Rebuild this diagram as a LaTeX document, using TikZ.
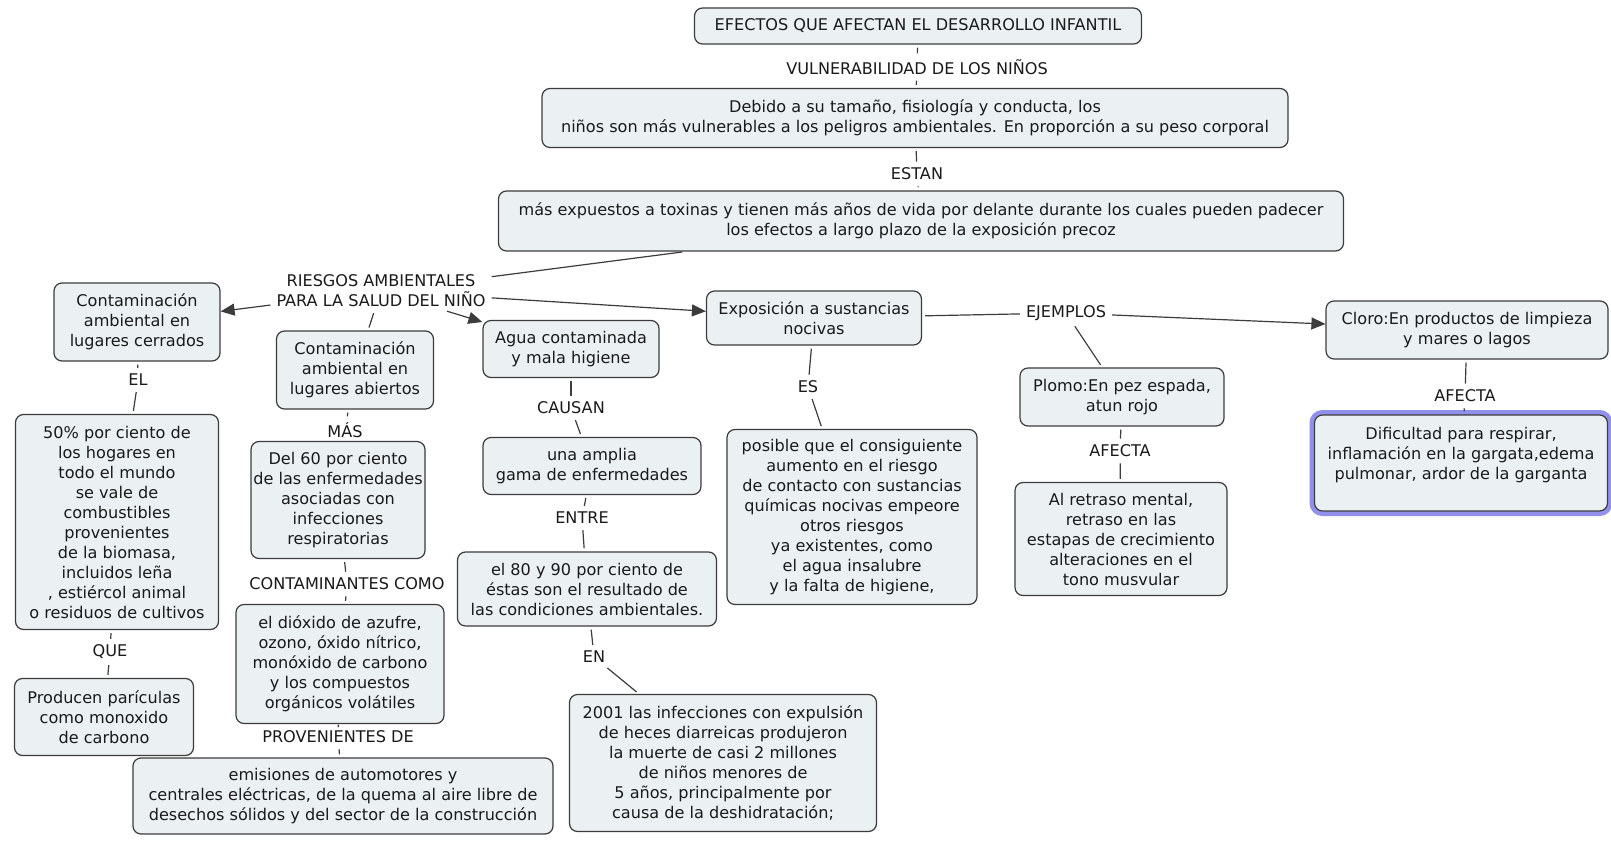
\documentclass[tikz,border=0pt]{standalone}
\usepackage{fontspec}
\setmainfont{DejaVu Sans}
\usetikzlibrary{arrows.meta}
\definecolor{boxfill}{HTML}{EBF0F3}
\definecolor{boxline}{HTML}{3C3C3C}
\definecolor{txt}{HTML}{1A1A1A}
\definecolor{hl}{HTML}{9191EC}
\newcommand\cmfont{\fontsize{16.1}{20}\selectfont}
\tikzset{
 concept/.style={draw=boxline, fill=boxfill, rounded corners=8pt, line width=1.2pt, align=center, text=txt, inner sep=2pt, font=\cmfont},
 lbl/.style={align=center, text=txt, inner sep=3pt, font=\cmfont},
 link/.style={draw=boxline, line width=1.2pt, shorten <=3pt, shorten >=3pt},
 arr/.style={draw=boxline, line width=1.2pt, shorten <=3pt, -{Triangle[length=14pt,width=12pt]}}
}
\begin{document}
\begin{tikzpicture}[x=1pt,y=-1pt]
\fill[white] (0,0) rectangle (1611,842);
\useasboundingbox (0,0) rectangle (1611,842);

\node[concept, minimum width=447pt, minimum height=36pt] (title) at (918,26) {EFECTOS QUE AFECTAN EL DESARROLLO INFANTIL};
\node[lbl] (vul) at (917,67) {VULNERABILIDAD DE LOS NIÑOS};
\node[concept, minimum width=746pt, minimum height=59pt] (debido) at (915,118) {Debido a su tamaño, fisiología y conducta, los\\niños son más vulnerables a los peligros ambientales. En proporción a su peso corporal};
\node[lbl] (estan) at (917,174) {ESTAN};
\node[concept, minimum width=845pt, minimum height=60pt] (masexp) at (921,221) {más expuestos a toxinas y tienen más años de vida por delante durante los cuales pueden padecer\\los efectos a largo plazo de la exposición precoz};
\node[lbl] (riesgos) at (381,291) {RIESGOS AMBIENTALES\\PARA LA SALUD DEL NIÑO};

\node[concept, minimum width=166pt, minimum height=78pt] (cerrados) at (137,322) {Contaminación\\ambiental en\\lugares cerrados};
\node[lbl] (el) at (138,380) {EL};
\node[concept, minimum width=203pt, minimum height=215pt] (p50) at (117,522) {50\% por ciento de\\los hogares en\\todo el mundo\\se vale de\\combustibles\\provenientes\\de la biomasa,\\incluidos leña\\, estiércol animal\\o residuos de cultivos};
\node[lbl] (que) at (110,652) {QUE};
\node[concept, minimum width=179pt, minimum height=77pt] (producen) at (104,717) {Producen parículas\\como monoxido\\de carbono};

\node[concept, minimum width=157pt, minimum height=78pt] (abiertos) at (355,370) {Contaminación\\ambiental en\\lugares abiertos};
\node[lbl] (mas) at (345,430) {MÁS};
\node[concept, minimum width=174pt, minimum height=117pt] (del60) at (338,500) {Del 60 por ciento\\de las enfermedades\\asociadas con\\infecciones\\respiratorias};
\node[lbl] (contcomo) at (347,584) {CONTAMINANTES COMO};
\node[concept, minimum width=208pt, minimum height=119pt] (dioxido) at (340,664) {el dióxido de azufre,\\ozono, óxido nítrico,\\monóxido de carbono\\y los compuestos\\orgánicos volátiles};
\node[lbl] (proven) at (338,737) {PROVENIENTES DE};
\node[concept, minimum width=420pt, minimum height=76pt] (emisiones) at (343,796) {emisiones de automotores y\\centrales eléctricas, de la quema al aire libre de\\desechos sólidos y del sector de la construcción};

\node[concept, minimum width=176pt, minimum height=57pt] (agua) at (571,349) {Agua contaminada\\y mala higiene};
\node[lbl] (causan) at (571,408) {CAUSAN};
\node[concept, minimum width=218pt, minimum height=57pt] (amplia) at (592,466) {una amplia\\gama de enfermedades};
\node[lbl] (entre) at (582,518) {ENTRE};
\node[concept, minimum width=259pt, minimum height=74pt] (el80) at (587,589) {el 80 y 90 por ciento de\\éstas son el resultado de\\las condiciones ambientales.};
\node[lbl] (en) at (594,657) {EN};
\node[concept, minimum width=307pt, minimum height=137pt] (d2001) at (723,763) {2001 las infecciones con expulsión\\de heces diarreicas produjeron\\la muerte de casi 2 millones\\de niños menores de\\5 años, principalmente por\\causa de la deshidratación;};

\node[concept, minimum width=215pt, minimum height=54pt] (expos) at (814,318) {Exposición a sustancias\\nocivas};
\node[lbl] (es) at (808,387) {ES};
\node[concept, minimum width=250pt, minimum height=175pt] (posible) at (852,517) {posible que el consiguiente\\aumento en el riesgo\\de contacto con sustancias\\químicas nocivas empeore\\otros riesgos\\ya existentes, como\\el agua insalubre\\y la falta de higiene,};

\node[lbl] (ejemplos) at (1066,313) {EJEMPLOS};
\node[concept, minimum width=204pt, minimum height=58pt] (plomo) at (1122,397) {Plomo:En pez espada,\\atun rojo};
\node[lbl] (afecta1) at (1120,451) {AFECTA};
\node[concept, minimum width=212pt, minimum height=113pt] (retraso) at (1121,539) {Al retraso mental,\\retraso en las\\estapas de crecimiento\\alteraciones en el\\tono musvular};

\node[concept, minimum width=282pt, minimum height=58pt] (cloro) at (1467,330) {Cloro:En productos de limpieza\\y mares o lagos};
\node[lbl] (afecta2) at (1465,396) {AFECTA};
\node[concept, preaction={draw=hl, line width=10pt}, minimum width=293pt, minimum height=96pt] (dific) at (1461,463) {Dificultad para respirar,\\inflamación en la gargata,edema\\pulmonar, ardor de la garganta\\\mbox{}};

\draw[link] (title) -- (vul);
\draw[link] (vul) -- (debido);
\draw[link] (debido) -- (estan);
\draw[link] (estan) -- (masexp);
\draw[link] (masexp) -- (riesgos);
\draw[arr] (riesgos) -- (cerrados);
\draw[link] (riesgos) -- (abiertos);
\draw[arr] (riesgos) -- (agua);
\draw[arr] (riesgos) -- (expos);
\draw[link] (cerrados) -- (el);
\draw[link] (el) -- (p50);
\draw[link] (p50) -- (que);
\draw[link] (que) -- (producen);
\draw[link] (abiertos) -- (mas);
\draw[link] (mas) -- (del60);
\draw[link] (del60) -- (contcomo);
\draw[link] (contcomo) -- (dioxido);
\draw[link] (dioxido) -- (proven);
\draw[link] (proven) -- (emisiones);
\draw[link] (agua) -- (causan);
\draw[link] (causan) -- (amplia);
\draw[link] (amplia) -- (entre);
\draw[link] (entre) -- (el80);
\draw[link] (el80) -- (en);
\draw[link] (en) -- (d2001);
\draw[link] (expos) -- (es);
\draw[link] (es) -- (posible);
\draw[link] (expos) -- (ejemplos);
\draw[arr] (ejemplos) -- (cloro);
\draw[link] (ejemplos) -- (plomo);
\draw[link] (plomo) -- (afecta1);
\draw[link] (afecta1) -- (retraso);
\draw[link] (cloro) -- (afecta2);
\draw[link] (afecta2) -- (dific);
\end{tikzpicture}
\end{document}
